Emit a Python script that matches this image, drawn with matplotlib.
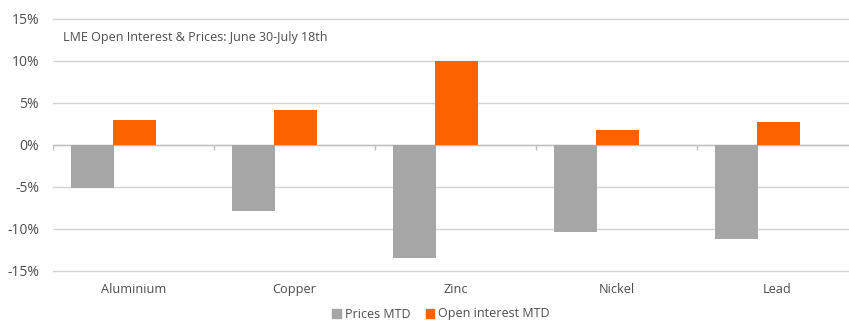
import matplotlib
matplotlib.use("Agg")
import matplotlib.pyplot as plt
import numpy as np
from matplotlib.patches import Patch

plt.rcParams['font.family'] = ['Open Sans', 'DejaVu Sans']

categories = ["Aluminium", "Copper", "Zinc", "Nickel", "Lead"]
prices_mtd = [-5.1, -7.9, -13.5, -10.4, -11.2]
open_interest_mtd = [3.0, 4.2, 10.0, 1.8, 2.7]
yticks = [-15, -10, -5, 0, 5, 10, 15]
ytick_labels = ["-15%", "-10%", "-5%", "0%", "5%", "10%", "15%"]

GRAY = "#a6a6a6"
ORANGE = "#ff6200"
TEXT = "#4d4d4d"

W, H = 849, 326
fig = plt.figure(figsize=(W / 100, H / 100), dpi=100)
left = 53 / W
width = 805 / W
bottom = 1 - 270.7 / H
top = 1 - 19 / H
ax = fig.add_axes([left, bottom, width, top - bottom])

x = np.arange(len(categories))
bw = 0.264
ax.bar(x - 0.255, prices_mtd, width=bw, color=GRAY, zorder=3)
ax.bar(x + 0.005, open_interest_mtd, width=bw, color=ORANGE, zorder=3)

ax.set_xlim(-0.5, len(categories) - 0.5)
ax.set_ylim(-15, 15)
ax.set_yticks(yticks)
ax.set_yticklabels(ytick_labels, fontsize=10, color=TEXT)
ax.yaxis.grid(True, color="#d4d4d4", linewidth=1, zorder=0)
for gl in ax.get_ygridlines():
    gl.set_clip_on(False)
ax.set_axisbelow(True)
ax.tick_params(axis='y', length=0, pad=10)

ax.set_xticks(x)
ax.set_xticklabels(categories, fontsize=9.2, color=TEXT)
ax.tick_params(axis='x', length=0, pad=9)

for s in ax.spines.values():
    s.set_visible(False)

ax.axhline(0, color="#bfbfbf", linewidth=1, zorder=2)
bounds = np.arange(len(categories)) - 0.5
ax.vlines(bounds, -0.6, 0, color="#bfbfbf", linewidth=1, zorder=2)

ax.text(63 / W, 1 - 37 / H, "LME Open Interest & Prices: June 30-July 18th",
        transform=fig.transFigure, fontsize=9.0, color=TEXT, va='center', ha='left')

handles = [Patch(color=GRAY, label="Prices MTD"), Patch(color=ORANGE, label="Open interest MTD")]
fig.legend(handles=handles, loc='center', bbox_to_anchor=(441 / W, 1 - 314 / H), ncol=2,
           frameon=False, fontsize=9.0, handlelength=0.7, handleheight=0.7,
           handletextpad=0.3, columnspacing=1.2, labelcolor=TEXT)

fig.savefig("out.png", dpi=100)
